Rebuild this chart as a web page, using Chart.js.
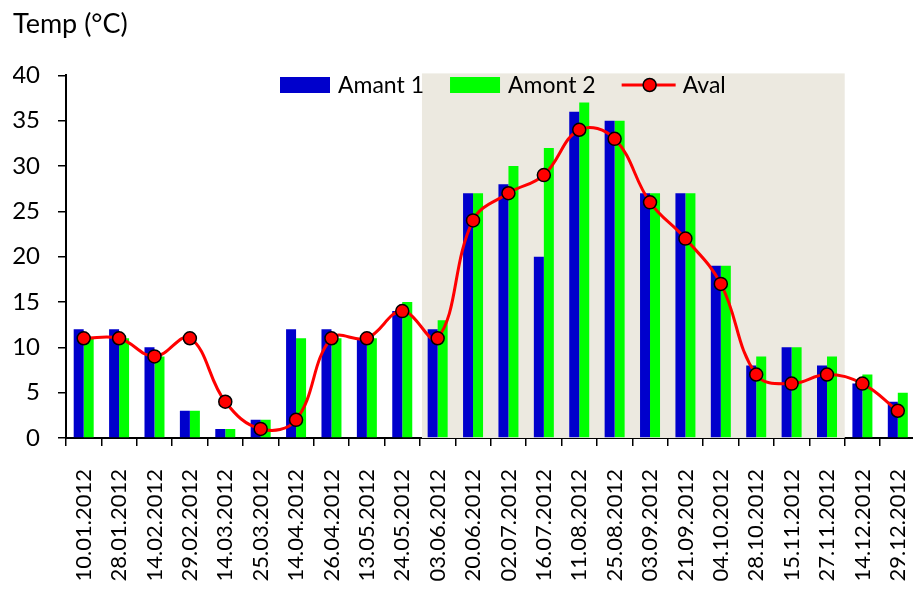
<!DOCTYPE html>
<html>
<head>
<meta charset="utf-8">
<script src="https://cdn.jsdelivr.net/npm/chart.js@4.4.1/dist/chart.umd.min.js"></script>
<style>
  html, body { margin: 0; padding: 0; background: #fff; overflow: hidden; }
  #wrap { width: 913px; height: 590px; position: relative; overflow: hidden; }
</style>
</head>
<body>
<div id="wrap"><canvas id="c" width="940" height="590"></canvas></div>
<script>
const categories = ["10.01.2012","28.01.2012","14.02.2012","29.02.2012","14.03.2012","25.03.2012","14.04.2012","26.04.2012","13.05.2012","24.05.2012","03.06.2012","20.06.2012","02.07.2012","16.07.2012","11.08.2012","25.08.2012","03.09.2012","21.09.2012","04.10.2012","28.10.2012","15.11.2012","27.11.2012","14.12.2012","29.12.2012"];
const amant1 = [12,12,10,3,1,2,12,12,11,14,12,27,28,20,36,35,27,27,19,8,10,8,6,4];
const amont2 = [11,11,9,3,1,2,11,11,11,15,13,27,30,32,37,35,27,27,19,9,10,9,7,5];
const aval   = [11,11,9,11,4,1,2,11,11,14,11,24,27,29,34,33,26,22,17,7,6,7,6,3];
const yTicks = [0,5,10,15,20,25,30,35,40];
const titleText = "Temp (°C)";
const shadeFirst = 10;   // 03.06.2012
const shadeLast = 21;    // 27.11.2012

const FONT = "Lato";
const TARGET_RIGHT = 915.5;

const shadePlugin = {
  id: 'shade',
  beforeDatasetsDraw(chart) {
    const {ctx, chartArea, scales} = chart;
    const x = scales.x;
    const half = (x.getPixelForValue(1) - x.getPixelForValue(0)) / 2;
    const x0 = x.getPixelForValue(shadeFirst) - half + 2;
    const x1 = x.getPixelForValue(shadeLast) + half;
    ctx.save();
    ctx.fillStyle = '#ECE9E0';
    ctx.fillRect(x0, chartArea.top - 2, x1 - x0, chartArea.bottom - chartArea.top + 2);
    ctx.restore();
  }
};

const legendPlugin = {
  id: 'customLegend',
  afterDraw(chart) {
    const {ctx} = chart;
    const ds = chart.data.datasets;
    const order = [1, 2, 0];
    let x = 280;
    const cy = 85;
    ctx.save();
    ctx.font = "23px " + FONT;
    ctx.textBaseline = 'middle';
    ctx.fillStyle = '#000';
    order.forEach((i) => {
      const d = ds[i];
      if (d.type === 'line') {
        ctx.strokeStyle = d.borderColor;
        ctx.lineWidth = 3;
        ctx.beginPath();
        ctx.moveTo(x, cy);
        ctx.lineTo(x + 54, cy);
        ctx.stroke();
        ctx.beginPath();
        ctx.arc(x + 28, cy, 6.5, 0, Math.PI * 2);
        ctx.fillStyle = d.pointBackgroundColor;
        ctx.fill();
        ctx.lineWidth = 1.5;
        ctx.strokeStyle = '#000';
        ctx.stroke();
        x += 61;
      } else {
        ctx.fillStyle = d.backgroundColor;
        ctx.fillRect(x, cy - 8, 50, 16);
        x += 58;
      }
      ctx.fillStyle = '#000';
      ctx.fillText(d.label, x, cy + 1);
      x += ctx.measureText(d.label).width + 26;
    });
    ctx.restore();
  }
};

const chart = new Chart(document.getElementById('c'), {
  data: {
    labels: categories,
    datasets: [
      {
        type: 'line', label: 'Aval', data: aval, order: 0,
        borderColor: '#FF0000', borderWidth: 3, tension: 0.4,
        pointRadius: 6.5, pointBackgroundColor: '#FF0000',
        pointBorderColor: '#000', pointBorderWidth: 1.5
      },
      {
        type: 'bar', label: 'Amant 1', data: amant1, order: 1,
        backgroundColor: '#0000CC', categoryPercentage: 0.565, barPercentage: 1
      },
      {
        type: 'bar', label: 'Amont 2', data: amont2, order: 1,
        backgroundColor: '#00FF00', categoryPercentage: 0.565, barPercentage: 1
      }
    ]
  },
  options: {
    responsive: false,
    maintainAspectRatio: false,
    animation: false,
    layout: { autoPadding: false, padding: { left: 13, right: 24, top: 0, bottom: 0 } },
    plugins: {
      legend: { display: false },
      tooltip: { enabled: false },
      title: {
        display: true, text: titleText, align: 'start', color: '#000',
        font: { family: FONT, size: 27, weight: 'normal' }, padding: { top: 8, bottom: 35 }
      }
    },
    scales: {
      x: {
        offset: true,
        grid: { display: true, drawOnChartArea: false, drawTicks: true, tickLength: 8, color: '#000', lineWidth: 1.5, offset: true },
        border: { display: true, color: '#000', width: 2 },
        ticks: { color: '#000', font: { family: FONT, size: 22 }, minRotation: 90, maxRotation: 90, padding: 23, autoSkip: false },
        afterFit(scale) { scale.height = 152; scale.paddingRight = 0; scale.paddingLeft = 0; }
      },
      y: {
        min: 0, max: 40,
        afterBuildTicks(scale) { scale.ticks = yTicks.map(v => ({ value: v })); },
        grid: { display: true, drawOnChartArea: false, drawTicks: true, tickLength: 8, color: '#000', lineWidth: 1.5 },
        border: { display: true, color: '#000', width: 2 },
        ticks: { color: '#000', font: { family: FONT, size: 24 }, padding: 18 },
        afterFit(scale) { scale.width = 53; }
      }
    }
  },
  plugins: [shadePlugin, legendPlugin]
});

// fit the plot area's right edge to the reference (it runs slightly past the window)
for (let k = 0; k < 3; k++) {
  const diff = chart.chartArea.right - TARGET_RIGHT;
  if (Math.abs(diff) < 0.3) break;
  chart.options.layout.padding.right = Math.max(0, chart.options.layout.padding.right + diff);
  chart.update();
}
</script>
</body>
</html>
